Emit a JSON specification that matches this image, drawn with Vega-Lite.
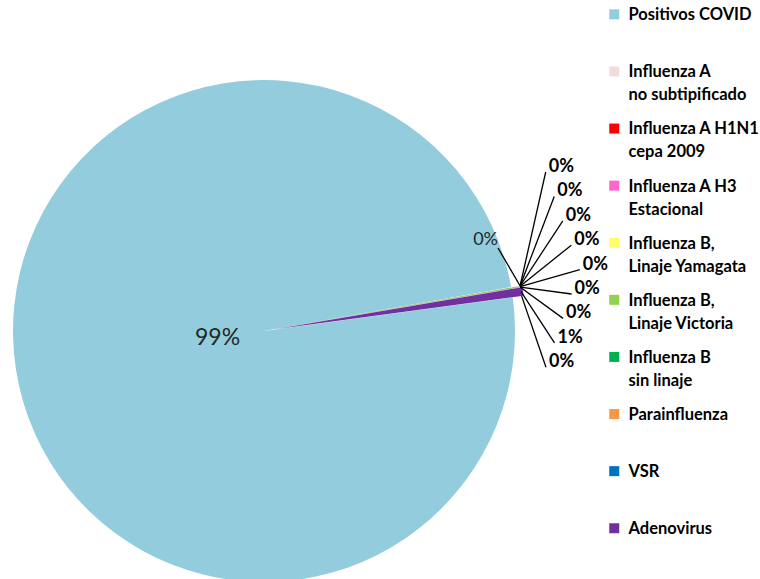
{
  "$schema": "https://vega.github.io/schema/vega-lite/v6.json",
  "width": 760,
  "height": 579,
  "padding": 0,
  "autosize": {"type": "none"},
  "background": "white",
  "config": {"view": {"stroke": null}, "font": "Lato"},
  "data": {
    "values": [
      {"categoria": "Positivos COVID", "casos": 9934},
      {"categoria": "Influenza A no subtipificado", "casos": 3},
      {"categoria": "Influenza A H1N1 cepa 2009", "casos": 0},
      {"categoria": "Influenza A H3 Estacional", "casos": 0},
      {"categoria": "Influenza B, Linaje Yamagata", "casos": 0},
      {"categoria": "Influenza B, Linaje Victoria", "casos": 2},
      {"categoria": "Influenza B sin linaje", "casos": 3},
      {"categoria": "Parainfluenza", "casos": 3},
      {"categoria": "VSR", "casos": 0},
      {"categoria": "Adenovirus", "casos": 55},
      {"categoria": "Otros virus", "casos": 0}
    ]
  },
  "transform": [
    {"window": [{"op": "row_number", "as": "idx"}]},
    {"window": [{"op": "sum", "field": "casos", "as": "cum"}], "sort": [{"field": "idx"}], "frame": [null, 0]},
    {"joinaggregate": [{"op": "sum", "field": "casos", "as": "total"}]},
    {"calculate": "(datum.cum - datum.casos) / datum.total", "as": "f0"},
    {"calculate": "datum.cum / datum.total", "as": "f1"},
    {"calculate": "datum.casos / datum.total", "as": "pct"},
    {"calculate": "1.4364 + PI * (datum.f0 + datum.f1)", "as": "mid"},
    {"calculate": "datum.idx == 1 ? 0 : 11 * sin(datum.mid)", "as": "cx"},
    {"calculate": "datum.idx == 1 ? 0 : 11 * cos(datum.mid)", "as": "cy"},
    {"calculate": "datum.cx + 249 * sin(datum.mid)", "as": "ex"},
    {"calculate": "datum.cy + 249 * cos(datum.mid)", "as": "ey"},
    {"calculate": "datum.idx == 1 ? 47 * cos(datum.mid) : datum.idx == 2 ? 83 : 159 - (datum.idx - 3) * 24.4", "as": "ly"},
    {"calculate": "datum.idx == 1 ? 47 * sin(datum.mid) : datum.idx == 2 ? 234 : 316 - 0.35 * abs(datum.ly - 61)", "as": "lx"}
  ],
  "layer": [
    {
      "mark": {"type": "arc", "radius": 251},
      "encoding": {
        "theta": {"field": "f0", "type": "quantitative", "stack": null, "scale": {"domain": [0, 1], "range": [1.4364, 7.7196]}},
        "theta2": {"field": "f1"},
        "x": {"field": "cx", "type": "quantitative", "axis": null, "scale": {"domain": [-264, 496], "nice": false, "zero": false}},
        "y": {"field": "cy", "type": "quantitative", "axis": null, "scale": {"domain": [-248, 331], "nice": false, "zero": false}},
        "order": {"field": "idx"},
        "color": {
          "field": "categoria",
          "type": "nominal",
          "scale": {
            "domain": ["Positivos COVID", "Influenza A no subtipificado", "Influenza A H1N1 cepa 2009", "Influenza A H3 Estacional", "Influenza B, Linaje Yamagata", "Influenza B, Linaje Victoria", "Influenza B sin linaje", "Parainfluenza", "VSR", "Adenovirus", "Otros virus"],
            "range": ["#93CDDD", "#F2DCDB", "#FF0000", "#FF66CC", "#FFFF66", "#92D050", "#00B050", "#F79646", "#0070C0", "#7030A0", "#A5A5A5"]
          },
          "legend": {
            "orient": "none",
            "legendX": 606,
            "legendY": 12,
            "title": null,
            "values": ["Positivos COVID", "Influenza A no subtipificado", "Influenza A H1N1 cepa 2009", "Influenza A H3 Estacional", "Influenza B, Linaje Yamagata", "Influenza B, Linaje Victoria", "Influenza B sin linaje", "Parainfluenza", "VSR", "Adenovirus"],
            "symbolType": "M-1,-2.18H1V-0.18H-1Z",
            "symbolSize": 100,
            "symbolStrokeWidth": 0,
            "symbolOpacity": 1,
            "labelFont": "Lato",
            "labelFontSize": 16.5,
            "labelFontWeight": "bold",
            "labelColor": "black",
            "labelBaseline": "alphabetic",
            "labelOffset": 6,
            "labelLimit": 300,
            "rowPadding": 17.1,
            "gridAlign": "all",
            "padding": 0,
            "labelExpr": "datum.label == 'Influenza A no subtipificado' ? ['Influenza A', 'no subtipificado'] : datum.label == 'Influenza A H1N1 cepa 2009' ? ['Influenza A H1N1', 'cepa 2009'] : datum.label == 'Influenza A H3 Estacional' ? ['\u00a0Influenza A H3', 'Estacional'] : datum.label == 'Influenza B, Linaje Yamagata' ? ['Influenza B,', 'Linaje Yamagata'] : datum.label == 'Influenza B, Linaje Victoria' ? ['Influenza B,', 'Linaje Victoria'] : datum.label == 'Influenza B sin linaje' ? ['Influenza B', 'sin linaje'] : datum.label",
            "encode": {"labels": {"update": {"lineHeight": {"value": 23}}}}
          }
        }
      }
    },
    {
      "transform": [{"filter": "datum.idx >= 2"}],
      "mark": {"type": "rule", "color": "black", "strokeWidth": 1.3},
      "encoding": {
        "x": {"field": "ex", "type": "quantitative", "axis": null, "scale": {"domain": [-264, 496], "nice": false, "zero": false}},
        "y": {"field": "ey", "type": "quantitative", "axis": null, "scale": {"domain": [-248, 331], "nice": false, "zero": false}},
        "x2": {"field": "lx"},
        "y2": {"field": "ly"}
      }
    },
    {
      "transform": [{"filter": "datum.idx >= 3"}],
      "mark": {"type": "text", "align": "left", "baseline": "bottom", "dx": 3, "dy": 4, "fontSize": 18, "fontWeight": "bold", "font": "Lato", "color": "black"},
      "encoding": {
        "x": {"field": "lx", "type": "quantitative", "axis": null, "scale": {"domain": [-264, 496], "nice": false, "zero": false}},
        "y": {"field": "ly", "type": "quantitative", "axis": null, "scale": {"domain": [-248, 331], "nice": false, "zero": false}},
        "text": {"field": "pct", "type": "quantitative", "format": ".0%"}
      }
    },
    {
      "transform": [{"filter": "datum.idx == 2"}],
      "mark": {"type": "text", "align": "right", "baseline": "bottom", "dx": 0, "dy": 1, "fontSize": 18, "font": "Lato", "color": "#262626"},
      "encoding": {
        "x": {"field": "lx", "type": "quantitative", "axis": null, "scale": {"domain": [-264, 496], "nice": false, "zero": false}},
        "y": {"field": "ly", "type": "quantitative", "axis": null, "scale": {"domain": [-248, 331], "nice": false, "zero": false}},
        "text": {"field": "pct", "type": "quantitative", "format": ".0%"}
      }
    },
    {
      "transform": [{"filter": "datum.idx == 1"}],
      "mark": {"type": "text", "align": "center", "baseline": "middle", "fontSize": 23, "font": "Lato", "color": "#262626"},
      "encoding": {
        "x": {"field": "lx", "type": "quantitative", "axis": null, "scale": {"domain": [-264, 496], "nice": false, "zero": false}},
        "y": {"field": "ly", "type": "quantitative", "axis": null, "scale": {"domain": [-248, 331], "nice": false, "zero": false}},
        "text": {"field": "pct", "type": "quantitative", "format": ".0%"}
      }
    }
  ]
}
